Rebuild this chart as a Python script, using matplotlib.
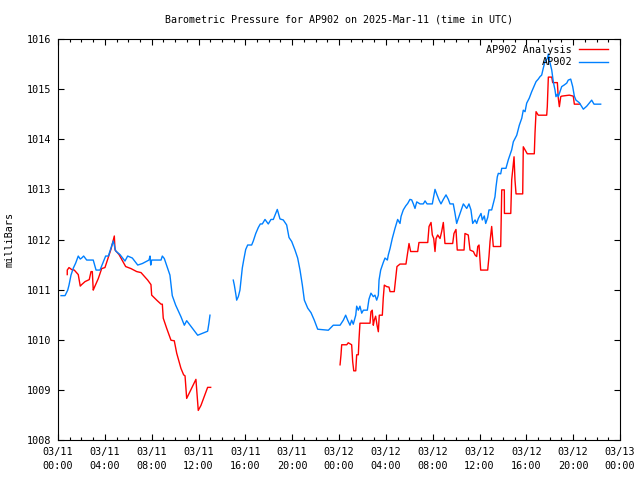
import datetime as dt
import matplotlib
matplotlib.use("Agg")
import matplotlib.pyplot as plt
import matplotlib.dates as mdates
import numpy as np

# hours after 2025-03-11 00:00 UTC, pressure in mb (nan = gap in record)
ap902_hours = [
    0.26, 0.60, 0.83, 0.94, 1.11, 1.31, 1.51, 1.73, 1.90, 2.02, 2.19, 2.45, 3.01, 3.25,
    3.59, 4.07, 4.30, 4.72, 4.93, 5.29, 5.72, 5.95, 6.35, 6.81, 7.20, 7.77, 7.86, 7.92,
    8.00, 8.80, 8.91, 9.08, 9.56, 9.76, 10.05, 10.50, 10.79, 10.99, 11.93, 12.78, 12.89,
    12.98, 14.0,
    14.97, 15.06, 15.20, 15.26, 15.40, 15.54, 15.63, 15.74, 15.86, 16.03, 16.20, 16.54,
    16.68, 16.89, 17.11, 17.28, 17.45, 17.68, 17.96, 18.19, 18.39, 18.59, 18.73, 18.96,
    19.24, 19.53, 19.73, 19.96, 20.24, 20.47, 20.67, 20.87, 21.04, 21.33, 21.61, 21.89,
    22.18, 23.09, 23.51, 24.09, 24.37, 24.57, 24.74, 24.94, 25.08, 25.22, 25.43, 25.51,
    25.65, 25.79, 25.94, 26.08, 26.42, 26.56, 26.73, 26.93, 27.07, 27.22, 27.36, 27.42,
    27.56, 27.78, 27.93, 28.13, 28.21, 28.36, 28.55, 28.78, 29.01, 29.21, 29.30, 29.49,
    29.70, 29.87, 30.06, 30.21, 30.35, 30.49, 30.64, 30.92, 31.20, 31.35, 31.52, 31.97,
    32.20, 32.34, 32.54, 32.71, 32.91, 33.14, 33.34, 33.48, 33.76, 33.91, 34.05, 34.19,
    34.34, 34.62, 34.91, 35.10, 35.27, 35.42, 35.62, 35.76, 35.90, 36.13, 36.24, 36.41,
    36.53, 36.70, 36.81, 37.04, 37.18, 37.32, 37.41, 37.52, 37.61, 37.81, 37.90, 38.26,
    38.46, 38.75, 38.89, 39.18, 39.40, 39.61, 39.74, 39.89, 40.03, 40.25, 40.46, 40.65,
    40.83, 41.02, 41.17, 41.31, 41.45, 41.59, 41.79, 41.88, 42.02, 42.17, 42.30, 42.45,
    42.53, 42.65, 42.73, 42.88, 43.02, 43.22, 43.45, 43.58, 43.79, 43.96, 44.10, 44.24,
    44.52, 44.87, 45.16, 45.58, 45.78, 46.35,
]
ap902_mb = [
    1010.88, 1010.88, 1010.99, 1011.09, 1011.29, 1011.43, 1011.53, 1011.67, 1011.61,
    1011.63, 1011.67, 1011.59, 1011.59, 1011.39, 1011.39, 1011.67, 1011.67, 1011.97,
    1011.77, 1011.70, 1011.57, 1011.67, 1011.63, 1011.49, 1011.52, 1011.59, 1011.67,
    1011.49, 1011.59, 1011.59, 1011.67, 1011.62, 1011.29, 1010.88, 1010.69, 1010.46,
    1010.29, 1010.38, 1010.09, 1010.17, 1010.33, 1010.49, np.nan,
    1011.19, 1011.09, 1010.89, 1010.79, 1010.86, 1010.99, 1011.19, 1011.43, 1011.59,
    1011.80, 1011.89, 1011.89, 1011.97, 1012.12, 1012.24, 1012.31, 1012.31, 1012.40,
    1012.31, 1012.40, 1012.40, 1012.52, 1012.60, 1012.41, 1012.39, 1012.29, 1012.04,
    1011.96, 1011.79, 1011.63, 1011.39, 1011.09, 1010.79, 1010.63, 1010.54, 1010.39,
    1010.21, 1010.19, 1010.29, 1010.29, 1010.39, 1010.49, 1010.39, 1010.29, 1010.39,
    1010.31, 1010.49, 1010.67, 1010.59, 1010.67, 1010.53, 1010.59, 1010.59, 1010.81,
    1010.93, 1010.86, 1010.89, 1010.79, 1010.89, 1011.19, 1011.39, 1011.54, 1011.63,
    1011.59, 1011.69, 1011.82, 1012.02, 1012.22, 1012.40, 1012.32, 1012.46, 1012.59,
    1012.67, 1012.72, 1012.80, 1012.79, 1012.71, 1012.62, 1012.75, 1012.71, 1012.71,
    1012.77, 1012.71, 1012.71, 1013.00, 1012.91, 1012.79, 1012.71, 1012.80, 1012.89,
    1012.80, 1012.71, 1012.71, 1012.52, 1012.32, 1012.42, 1012.52, 1012.71, 1012.62,
    1012.71, 1012.59, 1012.32, 1012.39, 1012.32, 1012.42, 1012.52, 1012.39, 1012.47,
    1012.32, 1012.44, 1012.59, 1012.59, 1012.72, 1012.85, 1013.05, 1013.25, 1013.32,
    1013.31, 1013.42, 1013.42, 1013.59, 1013.79, 1013.95, 1014.08, 1014.28, 1014.42,
    1014.58, 1014.55, 1014.72, 1014.82, 1014.95, 1015.05, 1015.15, 1015.20, 1015.25,
    1015.28, 1015.42, 1015.55, 1015.61, 1015.70, 1015.53, 1015.38, 1015.15, 1014.98,
    1014.85, 1014.90, 1014.85, 1014.95, 1015.05, 1015.08, 1015.12, 1015.18, 1015.20,
    1015.05, 1014.86, 1014.78, 1014.73, 1014.60, 1014.66, 1014.78, 1014.70, 1014.70,
]

analysis_hours = [
    0.79, 0.79, 0.94, 1.17, 1.39, 1.73, 1.90, 2.02, 2.31, 2.67, 2.82, 2.93, 3.01, 3.10,
    3.44, 3.73, 4.01, 4.30, 4.53, 4.72, 4.81, 4.87, 5.21, 5.78, 6.23, 6.72, 7.09, 7.66,
    7.94, 8.00, 8.43, 8.80, 8.91, 8.99, 9.28, 9.65, 9.93, 10.14, 10.50, 10.73, 10.85,
    10.99, 11.78, 11.84, 11.98, 12.21, 12.78, 13.04, 18.0,
    24.09, 24.17, 24.23, 24.66, 24.79, 24.94, 25.08, 25.17, 25.26, 25.43, 25.51, 25.65,
    25.71, 25.79, 26.65, 26.73, 26.84, 26.93, 27.01, 27.13, 27.25, 27.36, 27.44, 27.70,
    27.78, 27.87, 28.07, 28.27, 28.36, 28.72, 28.84, 28.95, 29.21, 29.72, 29.87, 29.98,
    30.12, 30.72, 30.83, 31.58, 31.69, 31.86, 31.97, 32.09, 32.20, 32.29, 32.43, 32.63,
    32.77, 32.91, 33.05, 33.71, 33.82, 33.99, 34.10, 34.68, 34.76, 35.04, 35.19, 35.48,
    35.62, 35.76, 35.85, 35.96, 36.10, 36.70, 36.81, 36.90, 37.04, 37.18, 37.32, 37.81,
    37.90, 38.12, 38.13, 38.67, 38.75, 38.84, 38.95, 39.03, 39.12, 39.69, 39.74, 39.89,
    40.08, 40.68, 40.74, 40.83, 41.02, 41.74, 41.79, 41.88, 42.17, 42.25, 42.65, 42.73,
    42.82, 42.94, 43.02, 43.67, 44.01, 44.10, 44.58,
]
analysis_mb = [
    1011.30, 1011.39, 1011.44, 1011.40, 1011.39, 1011.30, 1011.07, 1011.10, 1011.16,
    1011.20, 1011.36, 1011.36, 1010.99, 1011.04, 1011.22, 1011.42, 1011.44, 1011.65,
    1011.81, 1011.99, 1012.07, 1011.79, 1011.70, 1011.46, 1011.42, 1011.36, 1011.34,
    1011.19, 1011.10, 1010.89, 1010.79, 1010.71, 1010.71, 1010.43, 1010.23, 1009.99,
    1009.98, 1009.73, 1009.43, 1009.30, 1009.28, 1008.83, 1009.21, 1009.03, 1008.59,
    1008.69, 1009.05, 1009.05, np.nan,
    1009.50, 1009.70, 1009.90, 1009.90, 1009.94, 1009.92, 1009.90, 1009.56, 1009.38,
    1009.38, 1009.70, 1009.70, 1010.01, 1010.33, 1010.33, 1010.56, 1010.59, 1010.29,
    1010.39, 1010.47, 1010.29, 1010.16, 1010.49, 1010.49, 1010.83, 1011.09, 1011.06,
    1011.05, 1010.96, 1010.96, 1011.23, 1011.46, 1011.51, 1011.51, 1011.74, 1011.92,
    1011.76, 1011.76, 1011.94, 1011.94, 1012.26, 1012.34, 1012.09, 1012.02, 1011.76,
    1012.02, 1012.09, 1012.02, 1012.16, 1012.34, 1011.92, 1011.92, 1012.12, 1012.20,
    1011.79, 1011.79, 1012.12, 1012.09, 1011.79, 1011.76, 1011.69, 1011.66, 1011.86,
    1011.89, 1011.39, 1011.39, 1011.66, 1011.96, 1012.26, 1011.86, 1011.86, 1011.86,
    1012.99, 1012.99, 1012.52, 1012.52, 1013.19, 1013.39, 1013.65, 1013.19, 1012.91,
    1012.91, 1013.85, 1013.79, 1013.71, 1013.71, 1014.12, 1014.55, 1014.48, 1014.48,
    1014.65, 1015.24, 1015.24, 1015.13, 1015.13, 1014.82, 1014.65, 1014.85, 1014.86,
    1014.88, 1014.86, 1014.70, 1014.70,
]

start = dt.datetime(2025, 3, 11)

def to_times(hours):
    return [start + dt.timedelta(hours=h) for h in hours]

plt.rcParams['font.family'] = ['DejaVu Sans Mono']
plt.rcParams['font.size'] = 7.3

fig = plt.figure(figsize=(6.4, 4.8), dpi=100)
ax = fig.add_axes([58 / 640, 40 / 480, 562 / 640, 401 / 480])

ax.plot(to_times(analysis_hours), analysis_mb, color='#ff0000', lw=1.0, label='AP902 Analysis')
ax.plot(to_times(ap902_hours), ap902_mb, color='#0080ff', lw=1.0, label='AP902')

ax.set_xlim(start, start + dt.timedelta(hours=48))
ax.set_ylim(1008, 1016)
ax.set_yticks(range(1008, 1017))

ax.xaxis.set_major_locator(mdates.HourLocator(byhour=range(0, 24, 4)))
ax.xaxis.set_minor_locator(mdates.HourLocator())
ax.xaxis.set_major_formatter(mdates.DateFormatter('%m/%d\n%H:%M'))

ax.tick_params(which='both', direction='in', top=True, right=True, width=0.8)
ax.tick_params(which='major', length=4.5, pad=5)
ax.tick_params(which='minor', length=2.2)
plt.setp(ax.get_xticklabels(), linespacing=1.45)
for s in ax.spines.values():
    s.set_linewidth(0.8)

ax.set_ylabel('milliBars', labelpad=9)
ax.set_title('Barometric Pressure for AP902 on 2025-Mar-11 (time in UTC)',
             fontsize=7.2, pad=12)

ax.legend(loc='upper right', bbox_to_anchor=(0.978, 0.986), frameon=False,
          markerfirst=False, handlelength=2.8, handletextpad=0.7,
          borderaxespad=0, borderpad=0, labelspacing=0.25)

fig.savefig('out.png', dpi=100)
